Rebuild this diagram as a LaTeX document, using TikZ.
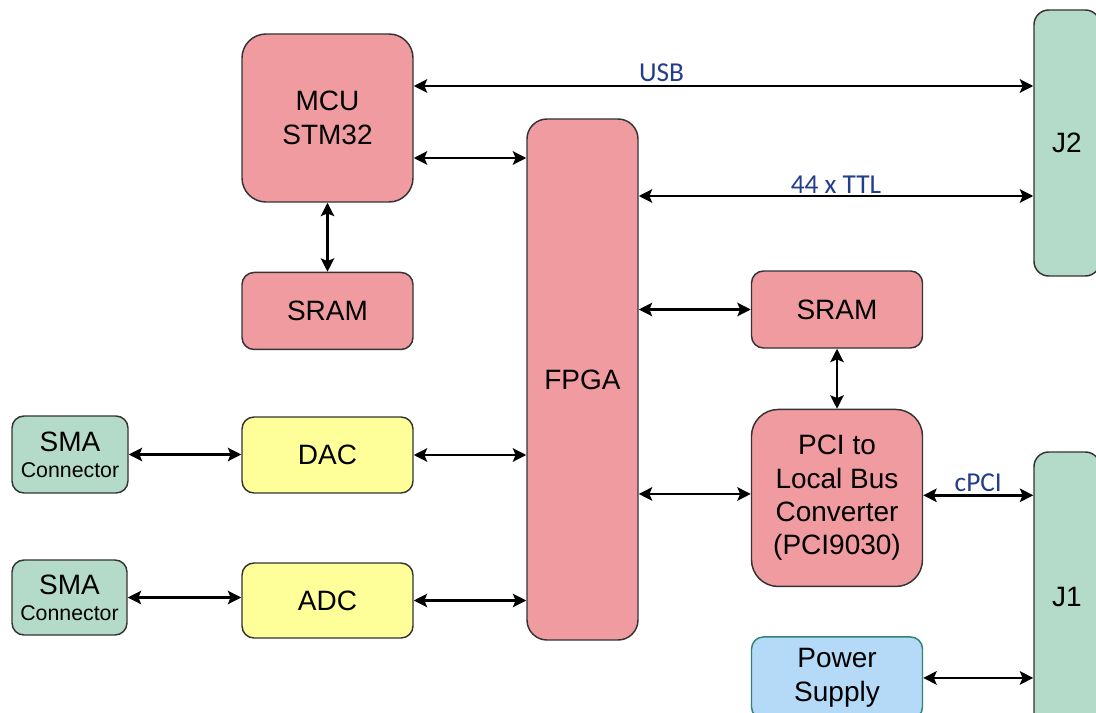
\documentclass[tikz,border=0pt]{standalone}
\usepackage{fontspec}
\setmainfont{Liberation Sans}
\newfontfamily\busfont{Carlito}
\usepackage{tikz}
\usetikzlibrary{arrows.meta, positioning, calc}
\definecolor{redblk}{RGB}{240,155,160}
\definecolor{grnblk}{RGB}{180,219,201}
\definecolor{ylwblk}{RGB}{255,255,153}
\definecolor{blublk}{RGB}{180,218,248}
\definecolor{psuedge}{RGB}{50,130,120}
\definecolor{buslbl}{RGB}{35,60,140}

\begin{document}
\begin{tikzpicture}[x=0.75pt, y=-0.75pt, >={Stealth[length=10pt,width=10pt,inset=2pt]},
  blk/.style={draw=black!80, line width=1.1pt, rounded corners=9pt, align=center, inner sep=0pt, font=\fontsize{21}{25}\selectfont},
  chip/.style={blk, fill=redblk},
  conv/.style={blk, fill=ylwblk},
  conn/.style={blk, fill=grnblk},
  link/.style={<->, line width=2pt},
  bus/.style={font=\busfont\fontsize{20.5}{24}\selectfont, text=buslbl, inner sep=2pt}]
\useasboundingbox (0,0) rectangle (1096,713);
\clip (0,0) rectangle (1096,713);

\node[chip, rounded corners=18pt, minimum width=128.25pt, minimum height=126pt] (mcu) at (327.5,118) {MCU\\STM32};
\node[chip, minimum width=128.25pt, minimum height=57.75pt, below=51.75pt of mcu] (sramL) {SRAM};
\node[chip, rounded corners=15pt, minimum width=83.25pt, minimum height=390.75pt] (fpga) at (582.5,379.5) {FPGA};
\node[conn, rounded corners=11pt, minimum width=49.5pt, minimum height=199.5pt] (j2) at (1067,143) {J2};
\node[chip, minimum width=128.25pt, minimum height=57.75pt] (sramR) at (837,309.5) {SRAM};
\node[chip, rounded corners=20pt, minimum width=128.25pt, minimum height=132.75pt, below=45pt of sramR] (pci) {PCI to\\Local Bus\\Converter\\(PCI9030)};
\node[blk, draw=psuedge, fill=blublk, minimum width=128.25pt, minimum height=61.5pt, below=36.75pt of pci] (psu) {Power\\Supply};
\node[conn, rounded corners=11pt, minimum width=49.5pt, minimum height=217.5pt] (j1) at (1067,597) {J1};
\node[conn, minimum width=87pt, minimum height=57.75pt, font=\fontsize{21}{19.5}\selectfont] (sma1) at (70,454.5) {SMA\\{\fontsize{16}{19.5}\selectfont Connector}};
\node[conn, minimum width=86.25pt, minimum height=56.25pt, font=\fontsize{21}{19.5}\selectfont] (sma2) at (69.5,597.5) {SMA\\{\fontsize{16}{19.5}\selectfont Connector}};
\node[conv, minimum width=128.25pt, minimum height=57pt] (dac) at (327.5,455) {DAC};
\node[conv, minimum width=128.25pt, minimum height=56.25pt] (adc) at (327.5,600.5) {ADC};

\draw[link] ([yshift=24pt]mcu.east) -- node[bus, above, pos=0.4]{USB} ([yshift=24pt]mcu.east -| j2.west);
\draw[link] ([yshift=-30pt]mcu.east) -- ([yshift=-30pt]mcu.east -| fpga.west);
\draw[link] (mcu.south) -- (sramL.north);
\draw[link] ([yshift=-39.75pt]j2.west -| fpga.east) -- node[bus, above, inner sep=0.5pt]{44 x TTL} ([yshift=-39.75pt]j2.west);
\draw[link] (sramR.west -| fpga.east) -- (sramR.west);
\draw[link] (sramR.south) -- (pci.north);
\draw[link] ([yshift=3pt]pci.west -| fpga.east) -- ([yshift=3pt]pci.west);
\draw[link] ([yshift=2pt]pci.east) -- node[bus, above]{cPCI} ([yshift=2pt]pci.east -| j1.west);
\draw[link] (psu.east) -- (psu.east -| j1.west);
\draw[link] (sma1.east) -- (sma1.east -| dac.west);
\draw[link] (dac.east) -- (dac.east -| fpga.west);
\draw[link] (sma2.east) -- (sma2.east -| adc.west);
\draw[link] (adc.east) -- (adc.east -| fpga.west);
\end{tikzpicture}
\end{document}
